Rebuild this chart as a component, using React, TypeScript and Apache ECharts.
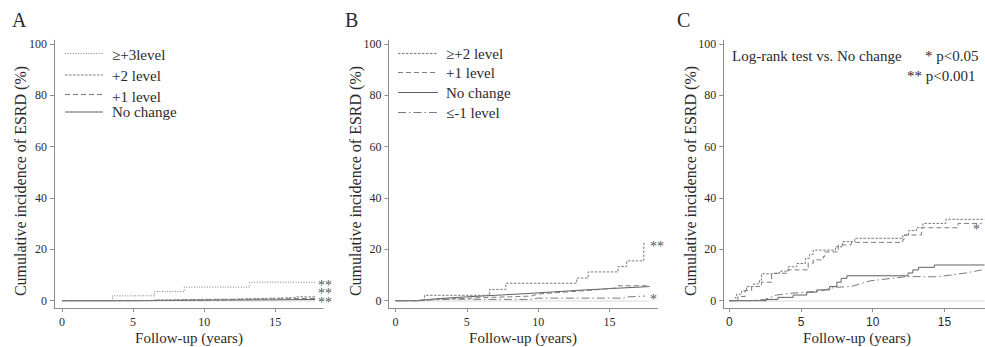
import React, { useEffect, useRef } from "react";
import * as echarts from "echarts";

// ---------- data (years, cumulative incidence %) ----------
// Panel A
const aPlus3: [number, number][] = [[0, 0], [3.55, 1.9], [6.5, 3.6], [8.6, 5.3], [13.2, 7.2], [17.8, 7.2]];
const aPlus2: [number, number][] = [[0, 0], [4.7, 0], [6.5, 0.3], [8, 0.5], [10, 0.6], [12, 0.8], [13.5, 1.0], [15, 1.2], [16.5, 1.5], [17.8, 1.5]];
const aPlus1: [number, number][] = [[0, 0], [4.8, 0.1], [7, 0.3], [9, 0.4], [11, 0.5], [13, 0.7], [15, 0.9], [17.8, 1.0]];
const aNoChange: [number, number][] = [[0, 0], [3, 0.05], [6, 0.15], [9, 0.25], [12, 0.35], [15, 0.45], [17.8, 0.5]];
// Panel B
const bPlus2: [number, number][] = [[0, 0], [2.03, 2.1], [6.59, 4.4], [7.73, 6.8], [12.7, 8.8], [13.5, 11.2], [15.6, 13.3], [16.2, 15.5], [17.4, 22.4], [17.5, 22.4]];
const bPlus1: [number, number][] = [[0, 0], [1.5, 0], [2.5, 0.5], [4.5, 0.8], [6, 1.2], [8, 1.5], [9.5, 1.8], [10, 2.6], [12, 3.4], [14, 4.2], [15.5, 5.0], [15.6, 5.8], [17.8, 5.8]];
const bNoChange: [number, number][] = [[0, 0], [1.4, 0], [3, 0.8], [5, 1.5], [7, 2.1], [9, 2.7], [11, 3.4], [13, 4.1], [15, 4.7], [17.8, 5.5]];
const bMinus1: [number, number][] = [[0, 0], [1.5, 0], [2.5, 0.3], [4, 0.6], [6, 0.5], [8, 0.5], [9.5, 0.5], [10, 1.0], [16, 1.0], [16.3, 1.5], [17.5, 1.8]];
// Panel C
const cPlus2: [number, number][] = [[0, 0], [0.4, 1.2], [0.5, 2.5], [0.86, 3.8], [1.2, 5.5], [1.67, 6.5], [2.1, 8], [2.25, 10.5], [2.95, 10.7], [3.5, 11.5], [4.1, 13.2], [4.7, 14.5], [5.3, 16.5], [5.6, 18], [5.85, 19.7], [7.4, 21], [7.9, 23], [8.75, 24.3], [12.1, 25.5], [12.5, 27.3], [13.05, 28.4], [13.5, 30.1], [15.1, 31.7], [17.8, 31.7]];
const cPlus1: [number, number][] = [[0, 0], [0.6, 1.6], [1.1, 4], [1.56, 5.5], [2.25, 7.2], [2.95, 10.7], [4.1, 12], [5.5, 14.6], [5.85, 15.9], [6.55, 17.2], [6.66, 19], [7.6, 21.7], [8.5, 22.7], [12.1, 23.9], [12.2, 25.6], [13.4, 28.4], [15.95, 30.1], [17.6, 30.1]];
const cNoChange: [number, number][] = [[0, 0], [2.6, 0.5], [3.4, 1.3], [4.45, 2.2], [5.4, 3.3], [6.1, 4.2], [7.0, 5.5], [7.5, 7.2], [7.8, 8.7], [8.2, 9.7], [12.46, 10.8], [12.8, 12], [13.2, 13], [14.3, 13.9], [17.8, 13.9]];
const cMinus1: [number, number][] = [[0, 0], [1.5, 0], [2.5, 0.5], [3.3, 2.2], [4.35, 2.9], [5.3, 3.3], [6.4, 3.8], [7.35, 5.2], [8.5, 5.5], [9.8, 7.7], [12.4, 9.4], [14.4, 9.3], [15.5, 10], [16.5, 10.8], [17.6, 12]];

const xTicks = [0, 5, 10, 15];
const yTicks = [0, 20, 40, 60, 80, 100];
const legendA = ["\u2265+3level", "+2 level", "+1 level", "No change"];
const legendB = ["\u2265+2 level", "+1 level", "No change", "\u2264-1 level"];
const yTitle = "Cumulative incidence of ESRD (%)";
const xTitle = "Follow-up (years)";

const SERIF = "'Liberation Serif', 'Times New Roman', Times, serif";
const SANS = "'Liberation Sans', Arial, sans-serif";
const TXT = "#2b2b2b";
const AX = "#8c8c8c";
const LINE = "#7a7a7a";
const SOLID = "#606060";

const DOT = [1, 1.6];
const FINE = [2.5, 1.5];
const DASH = [5, 3];
const DASHDOT = [8, 3, 1.5, 3];

export default function App() {
  const ref = useRef<HTMLDivElement>(null);
  useEffect(() => {
    if (!ref.current) return;
    const chart = echarts.init(ref.current, null, { renderer: "svg" });

    const grids = [
      { left: 54, top: 40.1, width: 269, height: 267.9 },
      { left: 388.5, top: 40.1, width: 269, height: 267.9 },
      { left: 723.3, top: 40.1, width: 262, height: 267.9 },
    ];
    const xRanges = [
      [-0.5626, 18.354],
      [-0.4905, 18.36],
      [-0.418, 17.83],
    ];

    const xAxes = grids.map((_, i) => ({
      type: "value",
      gridIndex: i,
      min: xRanges[i][0],
      max: xRanges[i][1],
      axisLine: { show: true, onZero: false, lineStyle: { color: AX, width: 1 } },
      axisTick: { show: true, length: 4, customValues: xTicks, lineStyle: { color: AX } },
      axisLabel: {
        customValues: xTicks,
        margin: 8,
        color: TXT,
        fontSize: 12,
        fontFamily: i === 2 ? SANS : SERIF,
      },
      splitLine: { show: false },
    }));
    const yAxes = grids.map((_, i) => ({
      type: "value",
      gridIndex: i,
      min: -2.85,
      max: 101.5,
      axisLine: { show: true, onZero: false, lineStyle: { color: AX, width: 1 } },
      axisTick: { show: true, length: 4, customValues: yTicks, lineStyle: { color: AX } },
      axisLabel: { customValues: yTicks, margin: 7, color: TXT, fontSize: 12, fontFamily: SERIF },
      splitLine: { show: false },
    }));

    const mk = (data: [number, number][], gi: number, dash: number[] | "solid", color: string, step: boolean, withBase = false) => {
      const s: any = {
        type: "line",
        xAxisIndex: gi,
        yAxisIndex: gi,
        data,
        step: step ? "end" : false,
        showSymbol: false,
        symbol: "none",
        silent: true,
        lineStyle: { color, width: 1, type: dash },
        z: 3,
      };
      if (withBase) {
        s.markLine = {
          silent: true,
          symbol: "none",
          label: { show: false },
          lineStyle: { color: "#e6e6e6", width: 1.5, type: "solid" },
          data: [[{ coord: [0, 0] }, { coord: [17.8, 0] }]],
          z: 1,
        };
      }
      return s;
    };

    const series = [
      mk(aNoChange, 0, "solid", SOLID, true, true),
      mk(aPlus1, 0, DASH, LINE, true),
      mk(aPlus2, 0, FINE, LINE, true),
      mk(aPlus3, 0, DOT, LINE, true),
      mk(bNoChange, 1, "solid", SOLID, false, true),
      mk(bMinus1, 1, DASHDOT, LINE, false),
      mk(bPlus1, 1, DASH, LINE, false),
      mk(bPlus2, 1, FINE, LINE, true),
      mk(cNoChange, 2, "solid", SOLID, true, true),
      mk(cMinus1, 2, DASHDOT, LINE, false),
      mk(cPlus1, 2, DASH, LINE, true),
      mk(cPlus2, 2, FINE, LINE, true),
    ];

    const txt = (text: string, x: number, y: number, size: number, opts: any = {}) => ({
      type: "text",
      x,
      y,
      rotation: opts.rotation || 0,
      silent: true,
      style: {
        text,
        fill: opts.fill || TXT,
        fontSize: size,
        fontFamily: opts.font || SERIF,
        textAlign: opts.align || "left",
        textVerticalAlign: "middle",
        lineHeight: opts.lineHeight,
      },
    });
    const seg = (x1: number, x2: number, y: number, dash: number[] | null, color: string) => ({
      type: "line",
      silent: true,
      shape: { x1, y1: y, x2, y2: y },
      style: { stroke: color, lineWidth: 1, lineDash: dash || undefined },
    });

    const graphics: any[] = [
      // panel letters
      txt("A", 12, 20, 20),
      txt("B", 345, 20, 20),
      txt("C", 677, 20, 20),
      // y titles
      txt(yTitle, 20, 181, 16, { rotation: Math.PI / 2, align: "center" }),
      txt(yTitle, 355, 181, 16, { rotation: Math.PI / 2, align: "center" }),
      txt(yTitle, 690, 181, 16, { rotation: Math.PI / 2, align: "center" }),
      // x titles
      txt(xTitle, 189, 338, 15, { align: "center" }),
      txt(xTitle, 523, 338, 15, { align: "center" }),
      txt(xTitle, 857, 338, 15, { align: "center" }),
      // legend A
      seg(65, 103, 53.5, DOT, LINE),
      seg(65, 103, 75, FINE, LINE),
      seg(65, 103, 94.5, DASH, LINE),
      seg(65, 103, 112, null, SOLID),
      txt(legendA[0], 112, 55, 15),
      txt(legendA[1], 112, 75.5, 15),
      txt(legendA[2], 112, 96.5, 15),
      txt(legendA[3], 112, 112, 15),
      // legend B
      seg(398, 438, 53.5, FINE, LINE),
      seg(398, 438, 72.5, DASH, LINE),
      seg(398, 438, 92.5, null, SOLID),
      seg(398, 438, 112.5, DASHDOT, LINE),
      txt(legendB[0], 446, 53.5, 15),
      txt(legendB[1], 446, 73, 15),
      txt(legendB[2], 446, 93, 15),
      txt(legendB[3], 446, 113, 15),
      // panel C note
      txt("Log-rank test vs. No change", 732, 55.5, 15),
      txt("* p<0.05", 925, 55.5, 15),
      txt("** p<0.001", 907, 75.5, 15),
      // significance stars
      txt("**\n**\n**", 318, 293.5, 14, { fill: "#555", lineHeight: 8.5 }),
      txt("**", 650, 246, 14, { fill: "#555" }),
      txt("*", 650, 299, 14, { fill: "#555" }),
      txt("*", 973, 229, 14, { fill: "#555" }),
    ];

    chart.setOption({
      animation: false,
      backgroundColor: "#ffffff",
      grid: grids.map((g) => ({ ...g, containLabel: false })),
      xAxis: xAxes,
      yAxis: yAxes,
      series,
      graphic: graphics,
    });
    return () => chart.dispose();
  }, []);

  return (
    <div
      ref={ref}
      style={{ position: "fixed", left: 0, top: 0, width: 985, height: 347, background: "#fff" }}
    />
  );
}
